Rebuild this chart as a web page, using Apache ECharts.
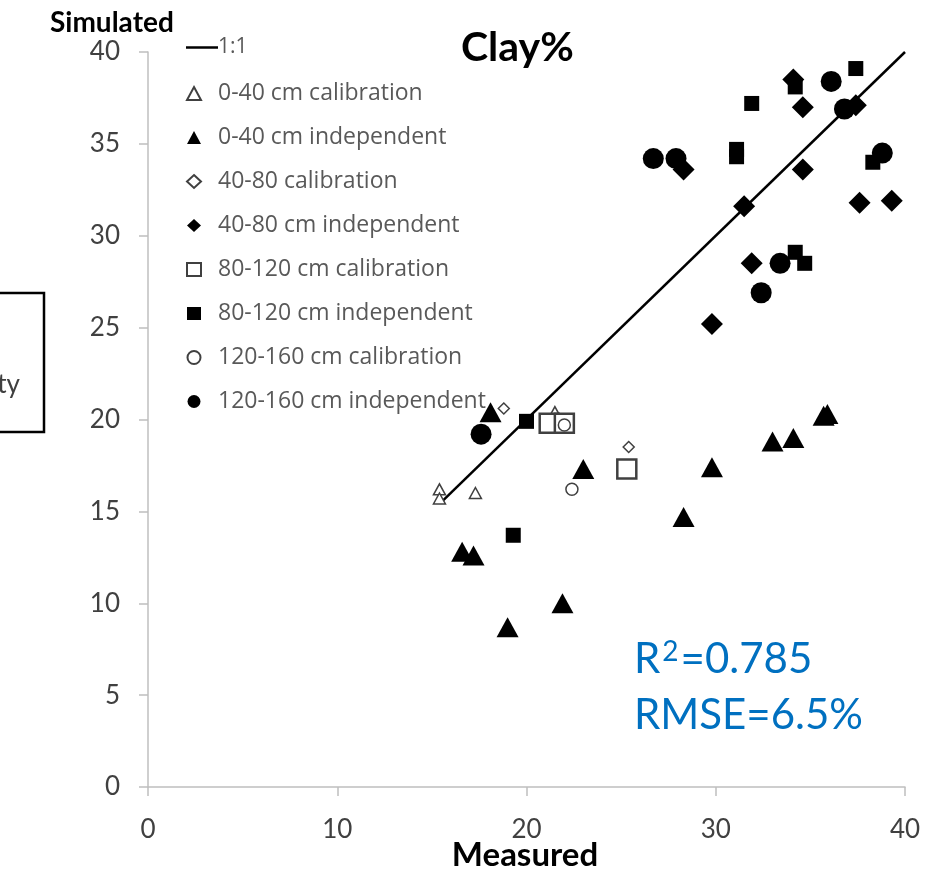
<!DOCTYPE html>
<html>
<head>
<meta charset="utf-8">
<script src="https://cdn.jsdelivr.net/npm/echarts@6/dist/echarts.min.js"></script>
<style>
  html, body { margin: 0; padding: 0; background: #fff; }
  #chart { width: 925px; height: 869px; }
</style>
</head>
<body>
<div id="chart"></div>
<script>
// Measured vs simulated clay content (%) by depth layer
const xTicks = [0, 10, 20, 30, 40];
const yTicks = [0, 5, 10, 15, 20, 25, 30, 35, 40];
const oneToOne = [[15.5, 15.5], [40, 40]];

const cal0to40 = [[15.4, 16.2], [15.4, 15.7], [17.3, 16.0], [21.5, 20.4]];
const ind0to40 = [[18.1, 20.4], [23.0, 17.3], [16.6, 12.8], [17.2, 12.6], [19.0, 8.7], [21.9, 10.0],
                  [28.3, 14.7], [29.8, 17.4], [33.0, 18.8], [34.1, 19.0], [35.7, 20.2], [35.9, 20.3]];
const cal40to80 = [[18.8, 20.6], [25.4, 18.5]];
const ind40to80 = [[28.3, 33.6], [34.6, 37.0], [34.6, 33.6], [31.5, 31.6], [37.6, 31.8], [39.3, 31.9],
                   [31.9, 28.5], [29.8, 25.2], [37.4, 37.1], [34.1, 38.5]];
const cal80to120 = [[21.2, 19.8], [22.0, 19.8], [25.3, 17.3]];
const ind80to120 = [[20.0, 19.9], [19.3, 13.7], [31.9, 37.2], [31.1, 34.7], [31.1, 34.3], [37.4, 39.1],
                    [34.2, 29.1], [34.7, 28.5], [38.3, 34.0], [34.2, 38.1]];
const cal120to160 = [[22.4, 16.2], [22.0, 19.7]];
const ind120to160 = [[17.6, 19.2], [26.7, 34.2], [27.9, 34.2], [36.1, 38.4], [36.8, 36.9], [38.8, 34.5],
                     [33.4, 28.5], [32.4, 26.9]];

const names = ['0-40 cm calibration', '0-40 cm independent', '40-80 calibration', '40-80 cm independent',
               '80-120 cm calibration', '80-120 cm independent', '120-160 cm calibration', '120-160 cm independent'];

const FONT = 'Lato, "Open Sans", sans-serif';
const LEGEND_FONT = '"Open Sans", Lato, sans-serif';
const AXIS_GREY = '#bfbfbf';

function openMarker(name, data, symbol, size, lw) {
  return {
    name, type: 'scatter', data, symbol, symbolSize: size, symbolKeepAspect: true,
    itemStyle: { color: '#ffffff', borderColor: '#404040', borderWidth: lw, opacity: 1 },
    z: 3
  };
}
function filledMarker(name, data, symbol, size) {
  return {
    name, type: 'scatter', data, symbol, symbolSize: size, symbolKeepAspect: true,
    itemStyle: { color: '#000000', borderWidth: 0, opacity: 1 },
    z: 4
  };
}

const chart = echarts.init(document.getElementById('chart'), null, { renderer: 'canvas' });

chart.setOption({
  animation: false,
  backgroundColor: '#ffffff',
  grid: { left: 148, right: 20, top: 52, bottom: 82, containLabel: false, outerBoundsMode: 'none' },
  title: {
    text: 'Clay%', left: 456, top: 22,
    textStyle: { fontFamily: FONT, fontWeight: 'bold', fontSize: 41, color: '#000' }
  },
  legend: [
    {
      data: [{ name: '1:1', icon: 'rect' }], left: 181, top: 32,
      itemWidth: 32, itemHeight: 2.5, symbolKeepAspect: false,
      textStyle: { fontFamily: LEGEND_FONT, fontSize: 21, color: '#595959', padding: [0, 0, 0, -5] }
    },
    {
      data: names, orient: 'vertical', left: 181, top: 77,
      itemWidth: 14, itemHeight: 13, itemGap: 21, symbolKeepAspect: true,
      textStyle: { fontFamily: LEGEND_FONT, fontSize: 23, color: '#595959', padding: [0, 0, 0, 12] }
    }
  ],
  xAxis: {
    type: 'value', min: 0, max: 40, interval: 10,
    axisLine: { show: true, onZero: false, lineStyle: { color: AXIS_GREY, width: 1.5 } },
    axisTick: { show: true, inside: false, length: 9, lineStyle: { color: AXIS_GREY, width: 1.5 } },
    splitLine: { show: false },
    axisLabel: {
      margin: 30, fontFamily: FONT, fontSize: 26, color: '#404040',
      formatter: v => xTicks.includes(v) ? String(v) : ''
    }
  },
  yAxis: {
    type: 'value', min: 0, max: 40, interval: 5,
    axisLine: { show: true, onZero: false, lineStyle: { color: AXIS_GREY, width: 1.5 } },
    axisTick: { show: true, inside: false, length: 9, lineStyle: { color: AXIS_GREY, width: 1.5 } },
    splitLine: { show: false },
    axisLabel: {
      margin: 28, fontFamily: FONT, fontSize: 26, color: '#404040',
      formatter: v => yTicks.includes(v) ? String(v) : ''
    }
  },
  graphic: [
    {
      type: 'text', left: 50, top: 9,
      style: { text: 'Simulated', font: 'bold 28px ' + FONT, fill: '#000' }
    },
    {
      type: 'text', x: 525, y: 855,
      style: { text: 'Measured', font: 'bold 33px ' + FONT, fill: '#000', align: 'center', verticalAlign: 'middle' }
    },
    {
      type: 'text', left: 634, top: 638,
      style: {
        text: 'R{sup|2}=0.785', font: '42px ' + FONT, fill: '#0070C0',
        rich: { sup: { fontSize: 28, fontFamily: FONT, fill: '#0070C0', verticalAlign: 'top', padding: [0, 2, 14, 2] } }
      }
    },
    {
      type: 'text', left: 634, top: 694,
      style: { text: 'RMSE=6.5%', font: '42px ' + FONT, fill: '#0070C0' }
    },
    {
      type: 'rect', shape: { x: -10, y: 293, width: 54, height: 139 },
      style: { fill: 'none', stroke: '#000', lineWidth: 2.5 }
    },
    {
      type: 'text', x: 20, y: 372,
      style: { text: 'ty', font: '26px ' + FONT, fill: '#404040', align: 'right' }
    }
  ],
  series: [
    {
      name: '1:1', type: 'line', data: oneToOne, symbol: 'none',
      lineStyle: { color: '#000', width: 2.5 }, itemStyle: { color: '#000' }, z: 2
    },
    openMarker(names[0], cal0to40, 'triangle', [12, 11], 1.5),
    filledMarker(names[1], ind0to40, 'triangle', [22, 20]),
    openMarker(names[2], cal40to80, 'diamond', 11, 1.5),
    filledMarker(names[3], ind40to80, 'diamond', 22),
    openMarker(names[4], cal80to120, 'rect', 19, 2.5),
    filledMarker(names[5], ind80to120, 'rect', 15),
    openMarker(names[6], cal120to160, 'circle', 12, 1.5),
    filledMarker(names[7], ind120to160, 'circle', 21)
  ]
});
</script>
</body>
</html>
